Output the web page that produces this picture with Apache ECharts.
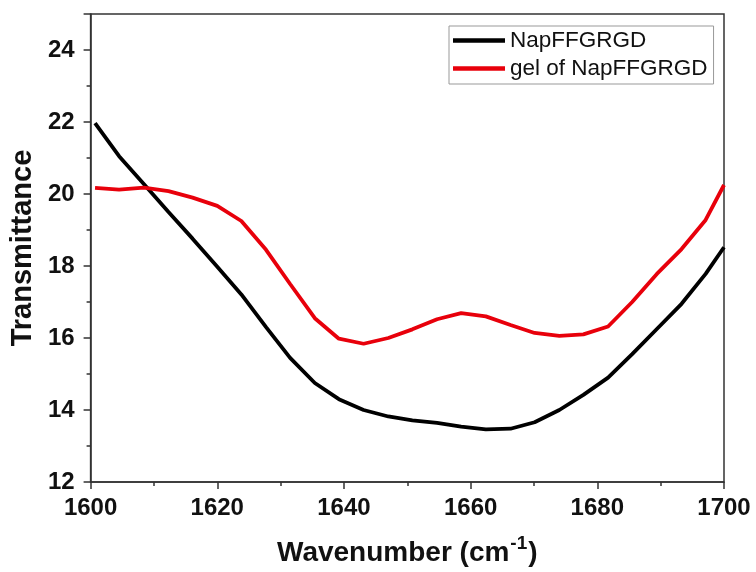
<!DOCTYPE html>
<html>
<head>
<meta charset="utf-8">
<script src="https://cdn.jsdelivr.net/npm/echarts@6/dist/echarts.min.js"></script>
<style>html,body{margin:0;padding:0;background:#fff}#c{width:756px;height:572px}</style>
</head>
<body>
<div id="c"></div>
<script>
var wavenumbers = [1600.7,1604.5,1608.4,1612.3,1616.1,1620.0,1623.8,1627.7,1631.5,1635.4,1639.2,1643.1,1647.0,1650.8,1654.7,1658.5,1662.4,1666.3,1670.1,1674.0,1677.8,1681.7,1685.5,1689.4,1693.3,1697.1,1700.0];
var napValues = [21.97,21.05,20.28,19.5,18.76,17.98,17.21,16.3,15.45,14.75,14.3,14.0,13.82,13.71,13.64,13.54,13.46,13.48,13.66,14.0,14.42,14.9,15.55,16.25,16.95,17.78,18.52];
var gelValues = [20.17,20.12,20.18,20.08,19.9,19.67,19.25,18.45,17.5,16.55,15.98,15.84,16.0,16.24,16.52,16.69,16.6,16.36,16.14,16.06,16.1,16.32,17.0,17.78,18.47,19.28,20.25];
var seriesNames = ['NapFFGRGD', 'gel of NapFFGRGD'];
var xTicks = {min: 1600, max: 1700, interval: 20};
var yTicks = {min: 12, max: 25, interval: 2};

function pairs(xs, ys) { return xs.map(function (x, i) { return [x, ys[i]]; }); }

var FONT = 'Liberation Sans, Arial, sans-serif';
var chart = echarts.init(document.getElementById('c'), null, {renderer: 'canvas'});
var axisColor = '#333';
chart.setOption({
  animation: false,
  backgroundColor: '#fff',
  grid: {left: 90, right: 32, top: 14, bottom: 88, show: true, borderColor: axisColor, borderWidth: 1.5, containLabel: false},
  legend: {
    orient: 'vertical', left: 449, top: 26,
    padding: [3, 6, 4, 4], itemGap: 5,
    itemWidth: 52, itemHeight: 4.5, icon: 'rect',
    borderColor: '#999', borderWidth: 1,
    textStyle: {fontFamily: FONT, fontSize: 22.5, color: '#111', padding: [0, 0, 0, 0]},
    data: seriesNames
  },
  xAxis: {
    type: 'value', min: xTicks.min, max: xTicks.max, interval: xTicks.interval,
    name: '{t|Wavenumber (cm}{s|-1}{t|)}', nameLocation: 'middle', nameGap: 52,
    nameTextStyle: {rich: {
      t: {fontFamily: FONT, fontSize: 28, fontWeight: 'bold', color: '#111', verticalAlign: 'bottom', lineHeight: 32},
      s: {fontFamily: FONT, fontSize: 19, fontWeight: 'bold', color: '#111', verticalAlign: 'top', padding: [0, 1, 14, 1]}
    }},
    axisLine: {show: true, lineStyle: {color: axisColor, width: 1.5}},
    axisTick: {show: true, inside: false, length: 7, lineStyle: {color: axisColor, width: 1.5}},
    minorTick: {show: true, splitNumber: 2, length: 4, lineStyle: {color: axisColor, width: 1.5}},
    axisLabel: {fontFamily: FONT, fontSize: 24, fontWeight: 'bold', color: '#111', margin: 14,
      formatter: function (v) { return String(v); }},
    splitLine: {show: false}
  },
  yAxis: {
    type: 'value', min: yTicks.min, max: yTicks.max, interval: yTicks.interval,
    name: 'Transmittance', nameLocation: 'middle', nameGap: 47,
    nameTextStyle: {fontFamily: FONT, fontSize: 29, fontWeight: 'bold', color: '#111'},
    axisLine: {show: true, lineStyle: {color: axisColor, width: 1.5}},
    axisTick: {show: true, inside: false, length: 7, lineStyle: {color: axisColor, width: 1.5}},
    minorTick: {show: true, splitNumber: 2, length: 4, lineStyle: {color: axisColor, width: 1.5}},
    axisLabel: {fontFamily: FONT, fontSize: 24, fontWeight: 'bold', color: '#111', margin: 16,
      showMaxLabel: false},
    splitLine: {show: false}
  },
  series: [
    {name: seriesNames[0], type: 'line', data: pairs(wavenumbers, napValues), showSymbol: false, symbol: 'none',
      lineStyle: {color: '#000', width: 3.8}, itemStyle: {color: '#000'}},
    {name: seriesNames[1], type: 'line', data: pairs(wavenumbers, gelValues), showSymbol: false, symbol: 'none',
      lineStyle: {color: '#e8000b', width: 3.8}, itemStyle: {color: '#e8000b'}}
  ]
});
</script>
</body>
</html>
